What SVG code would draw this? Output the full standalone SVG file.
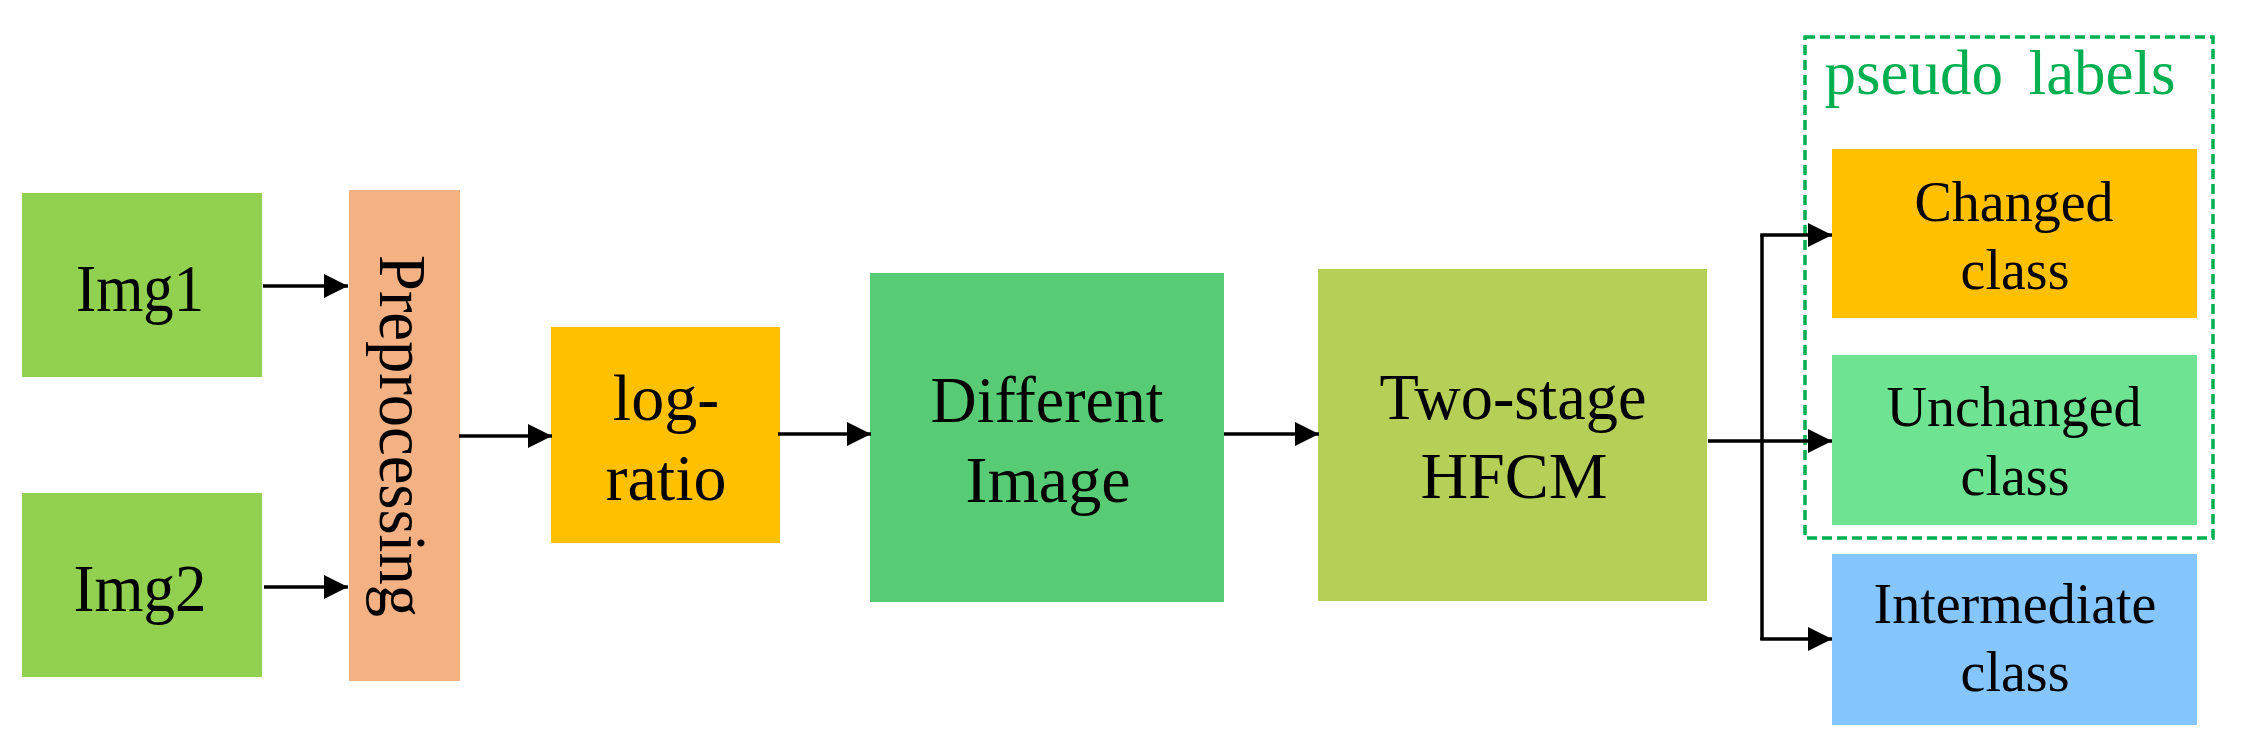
<svg xmlns="http://www.w3.org/2000/svg" width="2248" height="751" viewBox="0 0 2248 751">
<style>
text{font-family:"Liberation Serif","Times New Roman",serif;fill:#000;text-anchor:middle}
.t66{font-size:66px}
.t56{font-size:56px}
.conn{stroke:#000;stroke-width:3.5;fill:none}
</style>
<defs>
<marker id="arr" markerUnits="userSpaceOnUse" markerWidth="24" markerHeight="24" refX="24" refY="12" orient="auto">
<path d="M0,0 L24,12 L0,24 z" fill="#000"/>
</marker>
</defs>
<rect width="2248" height="751" fill="#fff"/>
<g id="pseudo-labels">
<rect x="1805" y="37" width="408" height="501" fill="none" stroke="#00B050" stroke-width="3.5" stroke-dasharray="10 5"/>
<text x="2000" y="94" style="font-size:63px;fill:#00B050;word-spacing:10px">pseudo labels</text>
</g>
<g id="img1">
<rect x="22" y="193" width="240" height="184" fill="#92D050"/>
<text class="t66" x="140" y="311" font-size="68" style="font-size:68px" textLength="128" lengthAdjust="spacingAndGlyphs">Img1</text>
</g>
<g id="img2">
<rect x="22" y="493" width="240" height="184" fill="#92D050"/>
<text x="140" y="611" style="font-size:68px" textLength="133" lengthAdjust="spacingAndGlyphs">Img2</text>
</g>
<g id="preprocessing">
<rect x="349" y="190" width="111" height="491" fill="#F4B183"/>
<text transform="translate(380,436) rotate(90)" x="0" y="0" style="font-size:67px" textLength="362" lengthAdjust="spacingAndGlyphs">Preprocessing</text>
</g>
<g id="log-ratio">
<rect x="551" y="327" width="229" height="216" fill="#FFC000"/>
<text class="t66" x="666" y="420">log-</text>
<text class="t66" x="666" y="500">ratio</text>
</g>
<g id="different-image">
<rect x="870" y="273" width="354" height="329" fill="#58CC75"/>
<text class="t66" x="1047" y="422" textLength="233" lengthAdjust="spacingAndGlyphs">Different</text>
<text class="t66" x="1048" y="502">Image</text>
</g>
<g id="hfcm">
<rect x="1318" y="269" width="389" height="332" fill="#B5CF57"/>
<text class="t66" x="1513" y="419" textLength="267" lengthAdjust="spacingAndGlyphs">Two-stage</text>
<text class="t66" x="1514" y="498">HFCM</text>
</g>
<g id="changed">
<rect x="1832" y="149" width="365" height="169" fill="#FFC000"/>
<text class="t56" x="2014" y="221">Changed</text>
<text class="t56" x="2015" y="289">class</text>
</g>
<g id="unchanged">
<rect x="1832" y="355" width="365" height="170" fill="#6EE391"/>
<text class="t56" x="2014" y="426">Unchanged</text>
<text class="t56" x="2015" y="495">class</text>
</g>
<g id="intermediate">
<rect x="1832" y="554" width="365" height="171" fill="#85C6FF"/>
<text class="t56" x="2015" y="623">Intermediate</text>
<text class="t56" x="2015" y="691">class</text>
</g>
<g id="connectors">
<path class="conn" d="M263,286 H348" marker-end="url(#arr)"/>
<path class="conn" d="M264,587 H348" marker-end="url(#arr)"/>
<path class="conn" d="M459,436 H552" marker-end="url(#arr)"/>
<path class="conn" d="M778,434 H871" marker-end="url(#arr)"/>
<path class="conn" d="M1224,434 H1319" marker-end="url(#arr)"/>
<path class="conn" d="M1708,441 H1832" marker-end="url(#arr)"/>
<path class="conn" d="M1762,235 V640"/>
<path class="conn" d="M1760.25,235 H1832" marker-end="url(#arr)"/>
<path class="conn" d="M1760.25,639 H1832" marker-end="url(#arr)"/>
</g>
</svg>
